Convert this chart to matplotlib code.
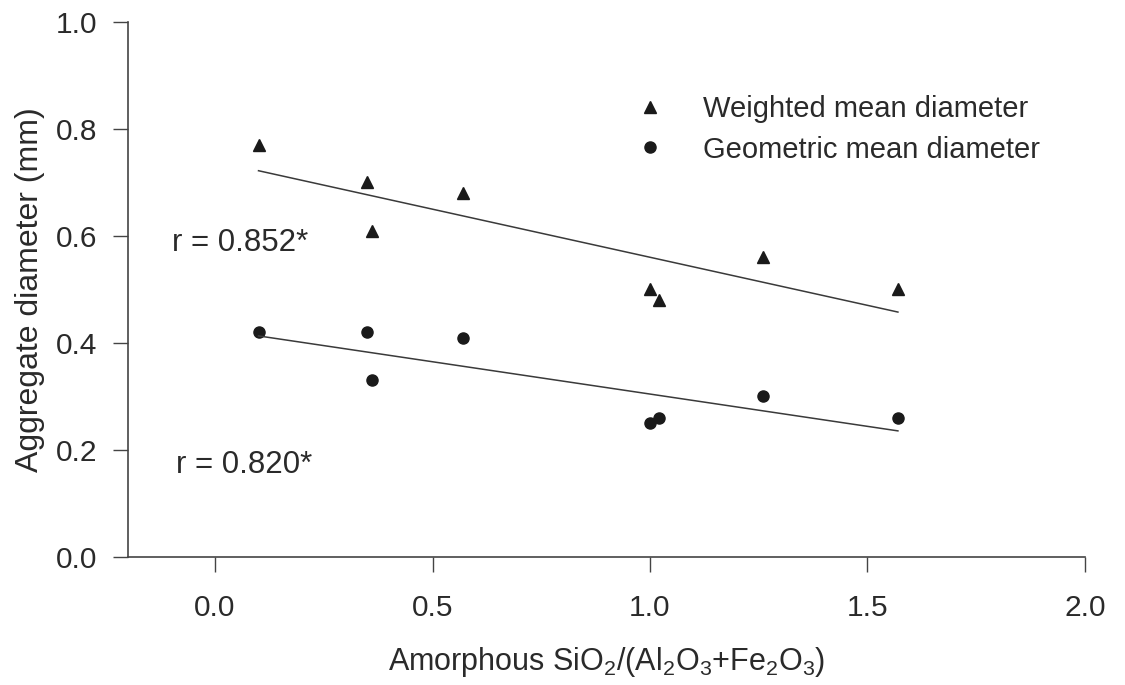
import numpy as np
import matplotlib.pyplot as plt

plt.rcParams['font.family'] = ['Liberation Sans', 'DejaVu Sans']
plt.rcParams['mathtext.fontset'] = 'custom'
plt.rcParams['mathtext.rm'] = 'Liberation Sans'

# SiO2 ratio for each soil sample
ratio = [0.10, 0.35, 0.36, 0.57, 1.00, 1.02, 1.26, 1.57]
# aggregate diameters (mm)
weighted_mean = [0.77, 0.70, 0.61, 0.68, 0.50, 0.48, 0.56, 0.50]
geometric_mean = [0.42, 0.42, 0.33, 0.41, 0.25, 0.26, 0.30, 0.26]

r_labels = ["r = 0.852*", "r = 0.820*"]

x_ticks = [0.0, 0.5, 1.0, 1.5, 2.0]
y_ticks = [0.0, 0.2, 0.4, 0.6, 0.8, 1.0]

ink = '#2a2a2a'

fig = plt.figure(figsize=(11.25, 6.85), dpi=100)
ax = fig.add_axes([0.1138, 0.1869, 0.8506, 0.7810])

x = np.array(ratio)
ax.plot(x, weighted_mean, linestyle='none', marker='^', markersize=9,
        color='#1a1a1a', label="Weighted mean diameter")
ax.plot(x, geometric_mean, linestyle='none', marker='o', markersize=8,
        color='#1a1a1a', label="Geometric mean diameter")

# least squares lines over the sampled range
xs = np.array([x.min(), x.max()])
for ys in (weighted_mean, geometric_mean):
    k, b = np.polyfit(x, ys, 1)
    ax.plot(xs, k * xs + b, color='#3a3a3a', linewidth=1.1)

ax.text(-0.10, 0.587, r_labels[0], fontsize=22.5, color=ink, ha='left', va='center')
ax.text(-0.09, 0.172, r_labels[1], fontsize=22.5, color=ink, ha='left', va='center')

ax.set_xlim(-0.2, 2.0)
ax.set_ylim(0.0, 1.0)
ax.set_xticks(x_ticks)
ax.set_yticks(y_ticks)
ax.set_xticklabels([f"{v:.1f}" for v in x_ticks])
ax.set_yticklabels([f"{v:.1f}" for v in y_ticks])
ax.tick_params(axis='both', direction='out', length=11, width=1, colors='#444',
               labelsize=21.5, labelcolor=ink)
ax.tick_params(axis='x', pad=16)
ax.tick_params(axis='y', pad=11)

for side in ('top', 'right'):
    ax.spines[side].set_visible(False)
for side in ('left', 'bottom'):
    ax.spines[side].set_color('#444')
    ax.spines[side].set_linewidth(1.2)

ax.set_xlabel(r"Amorphous SiO$_2$/(Al$_2$O$_3$+Fe$_2$O$_3$)", fontsize=22, color=ink, labelpad=16)
ax.set_ylabel("Aggregate diameter (mm)", fontsize=23, color=ink, labelpad=8)

ax.legend(loc='upper left', bbox_to_anchor=(0.515, 0.89), frameon=False,
          fontsize=21, handletextpad=1.3, labelspacing=0.42, borderpad=0,
          handlelength=1.0, labelcolor=ink)

fig.savefig("out.png", dpi=100)
